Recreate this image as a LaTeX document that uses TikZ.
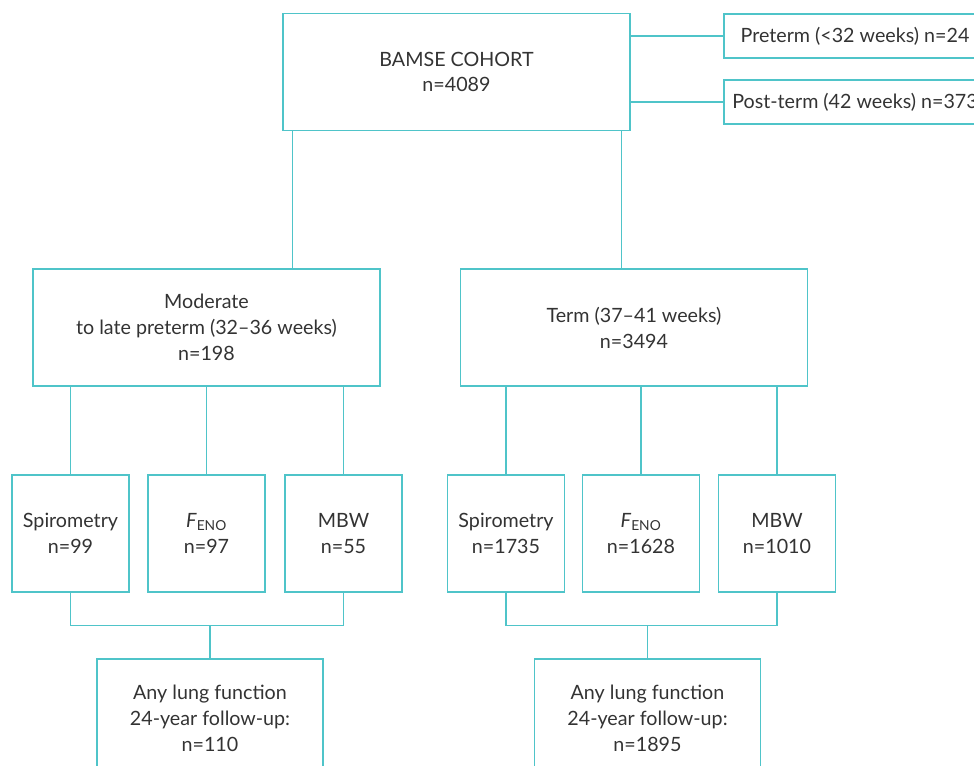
\documentclass[tikz,border=0pt]{standalone}
\usepackage{fontspec}
\setmainfont{Lato}
\definecolor{flow}{RGB}{79,196,201}
\definecolor{ink}{RGB}{51,51,51}
\begin{document}
\begin{tikzpicture}[x=0.025cm,y=-0.025cm]
    \tikzset{
    box/.style={draw=flow, line width=1pt, align=center, inner sep=0pt, text=ink, font=\fontsize{14}{18.4}\selectfont},
    big/.style={box, minimum width=8.675cm, minimum height=2.925cm},
    small/.style={box, minimum width=2.925cm, minimum height=2.925cm},
    side/.style={box, minimum width=6.55cm, minimum height=1.1cm},
    last/.style={box, minimum width=5.65cm, minimum height=2.95cm},
    link/.style={draw=flow, line width=1pt},
    }
    \useasboundingbox (0,0) rectangle (974,765);
    \clip (0,0) rectangle (974,765);
    \node[big] (cohort) at (456.5,72) {BAMSE COHORT\\n=4089};
    \node[side] (pre) at (855,36) {Preterm (<32 weeks) n=24};
    \node[side] (post) at (855,102) {Post-term (42 weeks) n=373};
    \node[big] (mod) at (206.5,327.5) {Moderate\\to late preterm (32--36 weeks)\\n=198};
    \node[big] (term) at (634,327.5) {Term (37--41 weeks)\\n=3494};
    \node[small] (sp1) at (70.5,533.5) {Spirometry\\n=99};
    \node[small] (fe1) at (206.5,533.5) {\textit{F}\textsubscript{ENO}\\n=97};
    \node[small] (mb1) at (343.5,533.5) {MBW\\n=55};
    \node[small] (sp2) at (506,533.5) {Spirometry\\n=1735};
    \node[small] (fe2) at (641,533.5) {\textit{F}\textsubscript{ENO}\\n=1628};
    \node[small] (mb2) at (777,533.5) {MBW\\n=1010};
    \node[last] (any1) at (210,718) {Any lung function\\24-year follow-up:\\n=110};
    \node[last] (any2) at (647.5,718) {Any lung function\\24-year follow-up:\\n=1895};
    % top level
    \draw[link] (pre.west) -- (pre.west -| cohort.east);
    \draw[link] (post.west) -- (post.west -| cohort.east);
    \draw[link] (cohort.south west) ++(10,0) coordinate (c1) -- (c1 |- mod.north);
    \draw[link] (cohort.south east) ++(-9,0) coordinate (c2) -- (c2 |- term.north);
    % tests
    \foreach \t in {sp1,fe1,mb1} \draw[link] (\t.north) -- (\t.north |- mod.south);
    \foreach \t in {sp2,fe2,mb2} \draw[link] (\t.north) -- (\t.north |- term.south);
    % follow-up
    \draw[link] (sp1.south) -- ++(0,33) coordinate (j1) -| (mb1.south);
    \draw[link] (any1.north) -- (any1.north |- j1);
    \draw[link] (sp2.south) -- ++(0,33) coordinate (j2) -| (mb2.south);
    \draw[link] (any2.north) -- (any2.north |- j2);
\end{tikzpicture}
\end{document}
